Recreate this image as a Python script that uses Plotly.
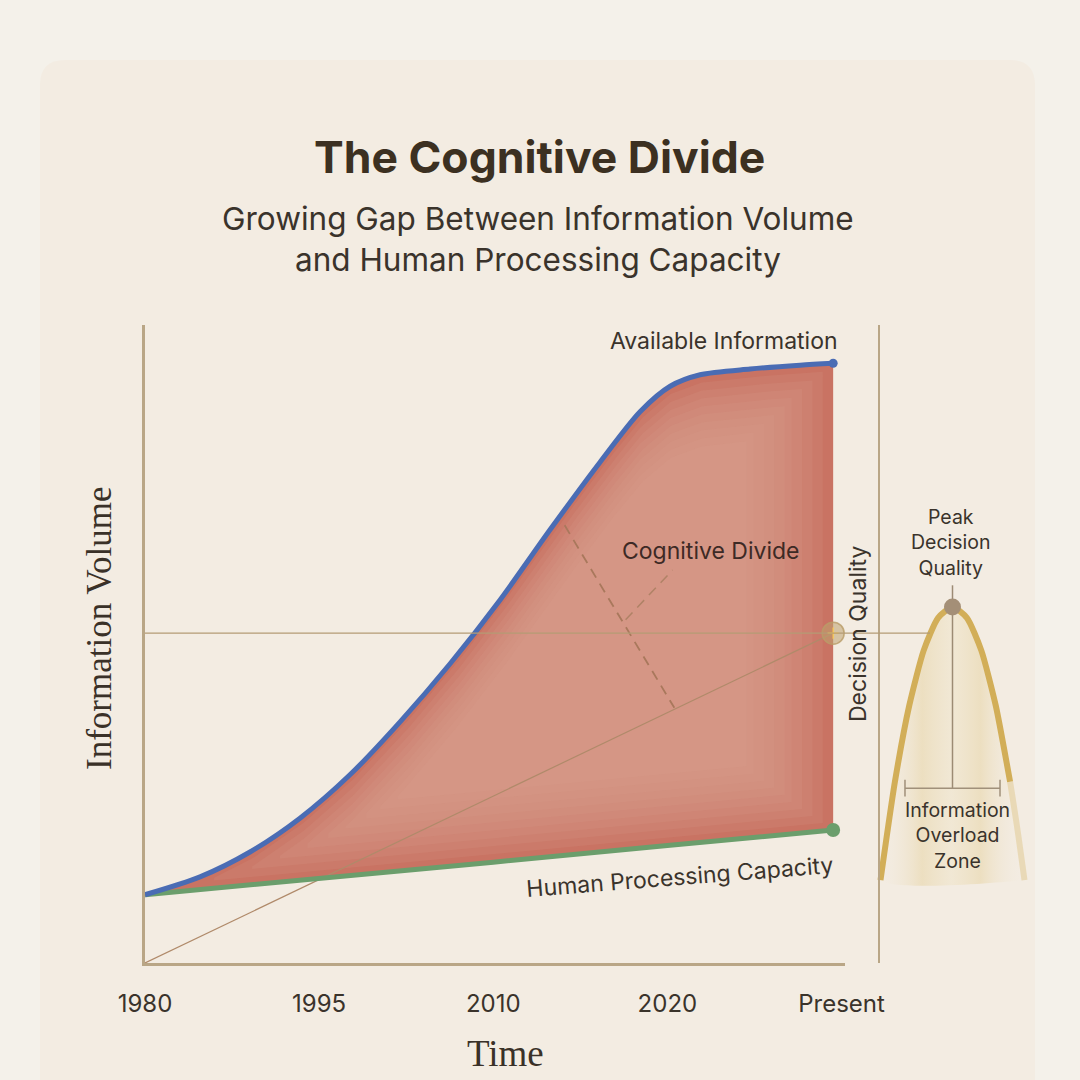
"""The Cognitive Divide — information volume vs human processing capacity."""
import numpy as np
import plotly.graph_objects as go

W = H = 1080

# ---------------------------------------------------------------------------
# Data
# ---------------------------------------------------------------------------
tick_pos = [0, 1, 2, 3, 4]
tick_text = ["1980", "1995", "2010", "2020", "Present"]

info_x = [0, 0.316, 0.603, 0.890, 1.177, 1.465, 1.752, 2.039, 2.326, 2.613,
          2.843, 3.016, 3.188, 3.475, 3.762, 3.952]
info_y = [10.7, 13.5, 17.4, 22.7, 29.5, 37.8, 46.9, 56.9, 67.9, 78.5,
          86.4, 90.4, 92.2, 93.1, 93.7, 94.0]

capacity_x = [0, 1, 2, 3, 3.952]
capacity_y = [10.7, 13.2, 15.8, 18.4, 20.85]

quality_x = [0, 3.952]
quality_y = [0, 51.7]
quality_level = 51.7

divide_x = [2.41, 3.04]
divide_y = [68.6, 40.0]
pointer_x = [2.76, 3.03]
pointer_y = [53.8, 61.6]

# inverted-U: decision quality vs information load
load = [-1.0, -0.8, -0.6, -0.4, -0.2, 0, 0.2, 0.4, 0.6, 0.8]
quality = [13.0, 28.4, 40.4, 49.0, 54.1, 55.8, 54.1, 49.0, 40.4, 28.4]
load_tail = [0.8, 0.9, 1.0]
quality_tail = [28.4, 21.1, 13.0]
peak = (0, 55.8)
peak_stem_y = [59.2, 27.4]
overload_x = [-0.66, 0.66]
overload_y = 27.4

# ---------------------------------------------------------------------------
# Colours / fonts
# ---------------------------------------------------------------------------
BG = "#f4f1ea"
CARD = "#f3ece2"
AXIS = "#b9a686"
BLUE = "#4a6cb4"
GREEN = "#6b9e6c"
GOLD = "#d2ae58"
TEXT = "#3a332b"
SANS = "Inter, 'Noto Sans', sans-serif"
SERIF = "'Liberation Serif', 'DejaVu Serif', serif"


def px(x):
    return x / W


def py(y):
    return 1 - y / H


fig = go.Figure()

# red gap fill (darker rim)
fig.add_trace(go.Scatter(x=capacity_x, y=capacity_y, mode="lines",
                         line=dict(width=0), hoverinfo="skip"))
fig.add_trace(go.Scatter(
    x=info_x, y=info_y, mode="lines", fill="tonexty",
    line=dict(width=0, shape="spline", smoothing=0.8),
    fillcolor="#c97363", hoverinfo="skip",
))

# soft lighter core: thin nested bands inset from the two curves
grid = np.linspace(0, info_x[-1], 200)
top = np.interp(grid, info_x, info_y)
bottom = np.interp(grid, capacity_x, capacity_y)
for k in range(1, 10):
    inset = 1.25 * k
    keep = (top - bottom > 2 * inset + 0.3) & (grid <= info_x[-1] - 0.055 * k)
    gx = grid[keep]
    band_top = top[keep] - inset
    band_bot = bottom[keep] + inset
    fig.add_trace(go.Scatter(
        x=np.concatenate([gx, gx[::-1]]),
        y=np.concatenate([band_top, band_bot[::-1]]),
        mode="lines", fill="toself", line=dict(width=0),
        fillcolor="rgba(217,160,145,0.16)", hoverinfo="skip",
    ))

# decision quality reference line
fig.add_trace(go.Scatter(x=quality_x, y=quality_y, mode="lines",
                         line=dict(color="#b08a6a", width=1.2)))

# cognitive divide dashes
fig.add_trace(go.Scatter(x=divide_x, y=divide_y, mode="lines",
                         line=dict(color="#a9785c", width=1.8, dash="10px,7px")))
fig.add_trace(go.Scatter(x=pointer_x, y=pointer_y, mode="lines",
                         line=dict(color="#b08266", width=1.5, dash="10px,7px")))

# main curves
fig.add_trace(go.Scatter(x=capacity_x, y=capacity_y, mode="lines",
                         line=dict(color=GREEN, width=5)))
fig.add_trace(go.Scatter(x=info_x, y=info_y, mode="lines",
                         line=dict(color=BLUE, width=5, shape="spline",
                                   smoothing=0.8)))
fig.add_trace(go.Scatter(x=[capacity_x[-1]], y=[capacity_y[-1]], mode="markers",
                         marker=dict(color=GREEN, size=14)))
fig.add_trace(go.Scatter(x=[info_x[-1]], y=[info_y[-1]], mode="markers",
                         marker=dict(color=BLUE, size=9)))
fig.add_trace(go.Scatter(
    x=[quality_x[-1]], y=[quality_y[-1]], mode="markers",
    marker=dict(color="rgba(190,162,112,0.55)", size=22,
                line=dict(color="rgba(185,156,104,0.8)", width=1.5))))
fig.add_trace(go.Scatter(
    x=[quality_x[-1]], y=[quality_y[-1]], mode="markers",
    marker=dict(symbol="cross-thin-open", size=8,
                line=dict(color="rgba(240,225,195,0.9)", width=1.2))))

# inverted U on its own x axis
fig.add_trace(go.Scatter(
    x=load + load_tail[1:] + [load_tail[-1], load[0]],
    y=quality + quality_tail[1:] + [quality_tail[-1], quality[0]],
    xaxis="x2", yaxis="y", mode="lines", fill="toself",
    line=dict(width=0, shape="spline", smoothing=0.6),
    fillgradient=dict(type="horizontal", colorscale=[
        [0, "rgba(243,236,226,0)"], [0.3, "rgba(232,214,170,0.6)"],
        [0.5, "rgba(238,225,192,0.4)"], [0.7, "rgba(232,214,170,0.6)"],
        [1, "rgba(243,236,226,0)"]]),
    hoverinfo="skip",
))
fig.add_trace(go.Scatter(x=load, y=quality, xaxis="x2", yaxis="y", mode="lines",
                         line=dict(color=GOLD, width=6, shape="spline",
                                   smoothing=0.6)))
fig.add_trace(go.Scatter(x=load_tail, y=quality_tail, xaxis="x2", yaxis="y",
                         mode="lines",
                         line=dict(color="rgba(222,196,130,0.45)", width=6,
                                   shape="spline")))
fig.add_trace(go.Scatter(x=[peak[0], peak[0]], y=peak_stem_y, xaxis="x2",
                         yaxis="y", mode="lines",
                         line=dict(color="#9c8b74", width=1.5)))
fig.add_trace(go.Scatter(
    x=overload_x, y=[overload_y, overload_y], xaxis="x2", yaxis="y",
    mode="lines+markers", line=dict(color="#a0907a", width=1.5),
    marker=dict(symbol="line-ns", size=12,
                line=dict(color="#a0907a", width=1.5))))
fig.add_trace(go.Scatter(x=[peak[0]], y=[peak[1]], xaxis="x2", yaxis="y",
                         mode="markers",
                         marker=dict(color="#a48f77", size=17)))

# ---------------------------------------------------------------------------
# Layout
# ---------------------------------------------------------------------------
card = (f"M {px(40)},{py(1100)} L {px(40)},{py(85)} "
        f"Q {px(40)},{py(60)} {px(65)},{py(60)} L {px(1010)},{py(60)} "
        f"Q {px(1035)},{py(60)} {px(1035)},{py(85)} L {px(1035)},{py(1100)} Z")

shapes = [
    dict(type="path", path=card, xref="paper", yref="paper",
         fillcolor=CARD, line=dict(width=0), layer="below"),
    dict(type="line", xref="paper", yref="paper", x0=px(879), x1=px(879),
         y0=py(963), y1=py(325), line=dict(color=AXIS, width=2)),
    dict(type="line", xref="paper", yref="y", x0=px(145), x1=px(930),
         y0=quality_level, y1=quality_level,
         line=dict(color="#b49b74", width=1.2), layer="above"),
]


def note(text, x, y, size, font=SANS, color=TEXT, angle=0):
    return dict(text=text, x=px(x), y=py(y), xref="paper", yref="paper",
                xanchor="center", yanchor="middle",
                showarrow=False, textangle=angle,
                font=dict(family=font, size=size, color=color))


annotations = [
    note("<b>The Cognitive Divide</b>", 539, 157, 44.5, color="#3c3021"),
    note("Growing Gap Between Information Volume", 538, 219, 31.5),
    note("and Human Processing Capacity", 538, 259, 31.5),
    note("Available Information", 724, 341, 23),
    note("Cognitive Divide", 710, 551, 23, color="#3d2a25"),
    note("Human Processing Capacity", 680, 877, 23, angle=-4.5),
    note("Decision Quality", 858, 634, 23, angle=-90),
    note("Peak<br>Decision<br>Quality", 951, 542, 19.5),
    note("Information<br>Overload<br>Zone", 957, 835, 19.5),
    note("Information Volume", 99, 628, 35, font=SERIF, color="#3a3128",
         angle=-90),
    note("Time", 505, 1053, 37, font=SERIF, color="#3a3128"),
]

fig.update_layout(
    width=W, height=H, autosize=False,
    margin=dict(l=0, r=0, t=0, b=0, pad=0, autoexpand=False),
    paper_bgcolor=BG, plot_bgcolor="rgba(0,0,0,0)",
    showlegend=False,
    shapes=shapes, annotations=annotations,
    xaxis=dict(domain=[px(145), px(845)], range=[0, 4.02],
               showgrid=False, zeroline=False, automargin=False,
               showline=True, linecolor=AXIS, linewidth=2.5,
               tickvals=tick_pos, ticktext=tick_text, ticks="",
               ticklabelstandoff=17,
               tickfont=dict(family=SANS, size=24, color=TEXT)),
    yaxis=dict(domain=[py(963), py(325)], range=[0, 100],
               showgrid=False, zeroline=False, showticklabels=False,
               automargin=False,
               showline=True, linecolor=AXIS, linewidth=2.5),
    xaxis2=dict(domain=[px(870), px(1035)], range=[-1.146, 1.146],
                anchor="y", visible=False),
)

fig.write_html("out.html",
               config={"responsive": False, "displayModeBar": False},
               post_script="document.body.style.margin='0';")
